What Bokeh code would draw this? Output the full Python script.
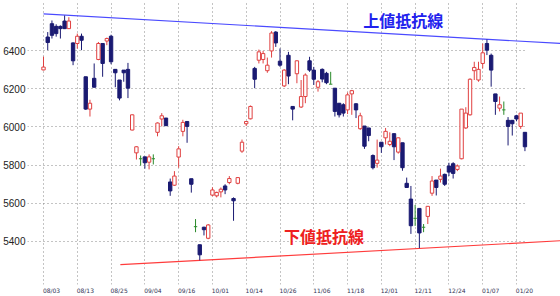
from bokeh.plotting import figure
from bokeh.models import ColumnDataSource, FixedTicker, Label, Range1d
from bokeh.embed import file_html
from bokeh.resources import INLINE

# ---- data ----
tick_days = [0, 8, 16, 24, 32, 40, 48, 56, 64, 72, 80, 88, 96, 104, 112]
tick_labels = ["08/03", "08/13", "08/25", "09/04", "09/16", "10/01", "10/14",
               "10/26", "11/06", "11/18", "12/01", "12/11", "12/24", "01/07", "01/20"]
y_ticks = [5400, 5600, 5800, 6000, 6200, 6400]

open_ = [6300, 6473, 6543, 6529, 6529, 6557, 6517, 6442, 6439, 6477,
         6264, 6094, 6256, 6355, 6439, 6452, 6477, 6303, 6247, 6299,
         6303, 5984, 5864, 5833, 5843, 5815, 5833, 5972, 6042, 6047,
         5711, 5694, 5842, 5977, 6029, 5728, 5476, 5381, 5473, 5415,
         5642, 5638, 5659, 5690, 5708, 5624, 5704, 5873, 6017, 6043,
         6308, 6351, 6355, 6296, 6400, 6499, 6346, 6216, 6377, 6108,
         6280, 6105, 6160, 6348, 6299, 6209, 6303, 6282, 6225, 6204,
         6125, 6117, 6090, 6174, 6122, 5991, 6005, 5995, 5850, 5809,
         5920, 5943, 5908, 5965, 5868, 5917, 5704, 5621, 5520, 5572,
         5473, 5530, 5652, 5721, 5725, 5751, 5795, 5807, 5777, 5833,
         5995, 6064, 6296, 6247, 6334, 6439, 6377, 6174, 6099, 6090,
         6035, 6035, 6059, 6003, 5972]
high = [6370, 6499, 6560, 6540, 6534, 6586, 6577, 6445, 6491, 6491,
        6264, 6143, 6334, 6447, 6439, 6470, 6485, 6303, 6247, 6299,
        6337, 6066, 5899, 5850, 5843, 5856, 5856, 6024, 6073, 6047,
        5729, 5768, 5899, 6038, 6029, 5728, 5516, 5381, 5476, 5490,
        5683, 5660, 5682, 5699, 5742, 5630, 5737, 5934, 6031, 6113,
        6316, 6407, 6400, 6365, 6504, 6504, 6413, 6304, 6395, 6108,
        6350, 6247, 6282, 6369, 6316, 6247, 6308, 6290, 6290, 6204,
        6125, 6125, 6181, 6195, 6125, 6075, 6005, 5995, 5856, 5934,
        5920, 5995, 5972, 5965, 5945, 5917, 5734, 5690, 5590, 5572,
        5490, 5583, 5742, 5721, 5781, 5755, 5812, 5815, 5803, 6094,
        6104, 6256, 6343, 6343, 6439, 6460, 6386, 6174, 6160, 6134,
        6052, 6035, 6064, 6073, 5972]
low = [6298, 6404, 6465, 6475, 6465, 6515, 6515, 6325, 6412, 6404,
       6090, 6055, 6209, 6351, 6264, 6430, 6330, 6209, 6140, 6238,
       6152, 5982, 5829, 5797, 5781, 5777, 5803, 5951, 6003, 6005,
       5638, 5690, 5786, 5951, 5917, 5655, 5447, 5299, 5430, 5410,
       5636, 5630, 5630, 5647, 5699, 5507, 5699, 5864, 6005, 6040,
       6204, 6334, 6334, 6285, 6365, 6421, 6316, 6210, 6225, 6035,
       6230, 6100, 6125, 6290, 6221, 6186, 6235, 6225, 6225, 6055,
       6050, 6055, 6068, 6064, 6047, 5985, 5885, 5925, 5777, 5786,
       5864, 5908, 5899, 5826, 5860, 5770, 5682, 5438, 5480, 5363,
       5447, 5490, 5638, 5640, 5708, 5690, 5742, 5729, 5768, 5830,
       5990, 6060, 6247, 6238, 6308, 6378, 6212, 6064, 6082, 6064,
       5903, 5955, 6030, 5990, 5873]
close = [6315, 6444, 6482, 6491, 6517, 6517, 6557, 6348, 6477, 6456,
         6094, 6125, 6209, 6439, 6334, 6465, 6343, 6285, 6152, 6285,
         6204, 6064, 5896, 5833, 5812, 5843, 5833, 6021, 6059, 6007,
         5664, 5742, 5885, 6024, 6003, 5699, 5476, 5328, 5460, 5485,
         5669, 5656, 5673, 5669, 5729, 5612, 5734, 5920, 6029, 6108,
         6251, 6395, 6386, 6325, 6494, 6442, 6325, 6299, 6268, 6094,
         6348, 6160, 6273, 6299, 6251, 6238, 6252, 6233, 6225, 6082,
         6064, 6073, 6169, 6191, 6090, 6059, 5899, 5955, 5786, 5826,
         5896, 5977, 5925, 5896, 5943, 5786, 5682, 5481, 5520, 5443,
         5473, 5583, 5716, 5682, 5742, 5699, 5763, 5756, 5795, 6094,
         6073, 6251, 6313, 6303, 6390, 6404, 6299, 6134, 6117, 6090,
         6003, 6017, 6042, 6073, 5896]

# resistance / support lines (day index, price)
upper_x = [0, 122.4]
upper_y = [6595, 6439]
lower_x = [18.2, 122.4]
lower_y = [5276, 5402]

# ---- styles ----
UP = "#e04040"
DOWN = "#1a1a72"
DOJI = "#2a8a2a"
BODY_W = 0.8
LABEL_SHIFT = 1.9   # x labels start at their grid line

days = list(range(len(open_)))

def pick(cond):
    idx = [i for i in days if cond(i)]
    return dict(
        x=idx,
        o=[open_[i] for i in idx],
        h=[high[i] for i in idx],
        l=[low[i] for i in idx],
        c=[close[i] for i in idx],
        top=[max(open_[i], close[i]) for i in idx],
        bot=[min(open_[i], close[i]) for i in idx],
        x0=[i - BODY_W / 2 for i in idx],
        x1=[i + BODY_W / 2 for i in idx],
    )

up = ColumnDataSource(pick(lambda i: close[i] > open_[i]))
down = ColumnDataSource(pick(lambda i: close[i] < open_[i]))
doji = ColumnDataSource(pick(lambda i: close[i] == open_[i]))

p = figure(width=560, height=296, output_backend="svg", toolbar_location=None,
           x_range=Range1d(-3.79, 122.42), y_range=Range1d(5172, 6665),
           min_border_left=27, min_border_right=0, min_border_top=0,
           min_border_bottom=10, background_fill_color="white",
           border_fill_color="white")
p.outline_line_color = None

# axes
label_pos = [round(d + LABEL_SHIFT, 3) for d in tick_days]
p.xaxis.ticker = FixedTicker(ticks=label_pos)
p.xaxis.major_label_overrides = {d: l for d, l in zip(label_pos, tick_labels)}
p.xgrid.ticker = FixedTicker(ticks=tick_days)
for ax in (p.xaxis, p.yaxis):
    ax.axis_line_color = None
    ax.major_tick_line_color = None
    ax.minor_tick_line_color = None
    ax.major_tick_out = 0
    ax.major_tick_in = 0
    ax.minor_tick_out = 0
    ax.minor_tick_in = 0
p.xaxis.major_label_text_font = "DejaVu Sans"
p.xaxis.major_label_text_font_size = "6px"
p.xaxis.major_label_text_color = "#333355"
p.xaxis.major_label_standoff = 2

p.yaxis.ticker = FixedTicker(ticks=y_ticks)
p.yaxis.major_label_text_font = "Liberation Sans"
p.yaxis.major_label_text_font_size = "10px"
p.yaxis.major_label_text_color = "#222222"
p.yaxis.major_label_standoff = 2

# grids
for g in (p.xgrid, p.ygrid):
    g.grid_line_color = "#888888"
    g.grid_line_dash = "1 3"
    g.grid_line_width = 1
p.ygrid.cross_bounds = (-3.79, 114.7)

# trend lines
p.line(upper_x, upper_y, line_color="#4a4aff", line_width=1.2)
p.line(lower_x, lower_y, line_color="#ff3c3c", line_width=1.2)

# candles
p.segment(x0="x", y0="h", x1="x", y1="l", source=down, line_color=DOWN, line_width=1)
p.segment(x0="x", y0="h", x1="x", y1="l", source=up, line_color=UP, line_width=1)
p.segment(x0="x", y0="h", x1="x", y1="l", source=doji, line_color=DOJI, line_width=1)
p.vbar(x="x", width=BODY_W, top="top", bottom="bot", source=down,
       fill_color=DOWN, line_color=DOWN, line_width=1)
p.vbar(x="x", width=BODY_W, top="top", bottom="bot", source=up,
       fill_color="white", line_color=UP, line_width=1)
p.segment(x0="x0", y0="o", x1="x1", y1="c", source=doji, line_color=DOJI, line_width=1)

# annotations
p.add_layout(Label(x=85.2, y=6564, text="上値抵抗線", text_font="Noto Sans CJK JP",
                   text_font_style="bold", text_font_size="16px", text_color="#2222ee",
                   text_align="center", text_baseline="middle"))
p.add_layout(Label(x=66.4, y=5429, text="下値抵抗線", text_font="Noto Sans CJK JP",
                   text_font_style="bold", text_font_size="16px", text_color="#ee2020",
                   text_align="center", text_baseline="middle"))

open("out.html", "w").write(file_html(p, INLINE))
